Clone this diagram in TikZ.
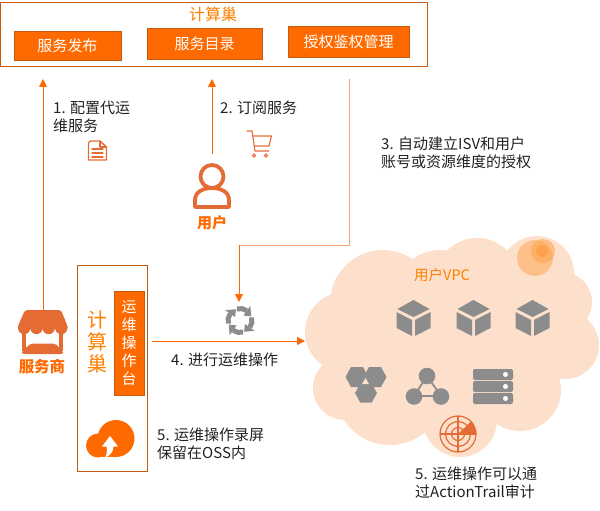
\documentclass[tikz,border=0pt]{standalone}
\usepackage{fontspec}
\setmainfont{Noto Sans CJK SC}
\usetikzlibrary{arrows.meta,calc}
\definecolor{org}{HTML}{FF6A00}
\definecolor{edge}{HTML}{C55A11}
\definecolor{icon}{HTML}{E56B35}
\definecolor{lite}{HTML}{F8A26E}
\definecolor{cloudc}{HTML}{FDE0CB}
\definecolor{gry}{HTML}{8C8C8C}
\definecolor{txt}{HTML}{222222}
\tikzset{
  btn/.style={draw=edge,fill=org,line width=0.8pt,text=white,font=\fontsize{15}{17}\selectfont,inner sep=0pt},
  frm/.style={draw=edge,line width=0.8pt,fill=none,inner sep=0pt},
  lbl/.style={anchor=west,align=left,text=txt,inner sep=0pt,font=\fontsize{15}{18}\selectfont},
  head/.style={text=org!85!yellow,inner sep=0pt},
  flow/.style={draw=org,line width=1pt,-{Triangle[length=8pt,width=8pt]}},
  ico/.style={draw=icon,line width=1.4pt,line join=round,line cap=round,fill=none},
  cube/.pic={
    \fill[gry] (0,-18) -- (16,-9) -- (0,-1) -- (-16,-9) -- cycle;
    \fill[gry] (-17,-6) -- (-1.5,2) -- (-1.5,18) -- (-17,10) -- cycle;
    \fill[gry] (17,-6) -- (1.5,2) -- (1.5,18) -- (17,10) -- cycle;
  },
  hex/.pic={\fill[gry] (-11.5,0) -- (-6,-10) -- (6,-10) -- (11.5,0) -- (6,10) -- (-6,10) -- cycle;},
  sbar/.pic={\fill[gry,rounded corners=2pt] (-20,-5.5) rectangle (20,5.5);\fill[white] (12.5,0) circle (2.5);}
}
\begin{document}
\begin{tikzpicture}[x=1pt,y=-1pt]
\useasboundingbox (0,0) rectangle (600,511);
% cloud
\foreach \cx/\cy/\cr in {345/332/40,383/303/53,440/296/46,477/280/42,537/273/37,562/302/30,565/345/34,520/390/41,460/420/37,390/390/55,345/388/32,450/340/85,500/340/62}{
  \fill[cloudc] (\cx,\cy) circle (\cr);
}
\fill[orange!60!cloudc,opacity=.55] (535,258) circle (18);
\fill[orange!60!cloudc,opacity=.6] (543,251) circle (12);
\fill[orange!75!cloudc,opacity=.55] (542,251) circle (6);
% top frame
\node[frm,minimum width=427pt,minimum height=64pt] (topframe) at (214,34.5) {};
\node[head,font=\fontsize{16}{18}\selectfont] (toptitle) at (213,14.5) {计算巢};
\node[btn,minimum width=107pt,minimum height=29.5pt] (publish) at (67.5,46) {服务发布};
\node[btn,minimum width=115pt,minimum height=30.5pt] (catalog) at (204.5,44) {服务目录};
\node[btn,minimum width=121pt,minimum height=30.5pt] (auth) at (348.5,42) {授权鉴权管理};
% side frame
\node[frm,minimum width=70pt,minimum height=206pt] (sideframe) at (112.5,368.5) {};
\node[btn,minimum width=30pt,minimum height=104.5pt,align=center,font=\fontsize{15}{17.8}\selectfont] (console) at (129,343.2) {运\\维\\操\\作\\台};
\node[head,align=center,font=\fontsize{20}{21.7}\selectfont] (sidetitle) at (97,342) {计\\算\\巢};
% coordinates for connectors
\coordinate (a1s) at (43,310); \coordinate (a1e) at (43,79);
\coordinate (a2s) at (212,154); \coordinate (a2e) at (212,79);
\coordinate (a3s) at (349,79); \coordinate (a3c) at (349,245); \coordinate (a3d) at (239,245); \coordinate (a3e) at (239,302);
\coordinate (a4s) at (152,341); \coordinate (a4e) at (305,341);
\draw[flow] (a1s) -- (a1e);
\draw[flow] (a2s) -- (a2e);
\draw[draw=lite,line width=1pt] (a3s) -- (a3c) -- (a3d);
\draw[flow] (a3d) -- (a3e);
\draw[flow] (a4s) -- (a4e);
% labels
\node[lbl] (l1) at (53,117) {1. 配置代运\\维服务};
\node[lbl] (l2) at (220,108) {2. 订阅服务};
\node[lbl] (l3) at (381,153) {3. 自动建立ISV和用户\\账号或资源维度的授权};
\node[lbl] (l4) at (171,360) {4. 进行运维操作};
\node[lbl] (l5) at (157,444) {5. 运维操作录屏\\保留在OSS内};
\node[lbl] (l6) at (415,483) {5. 运维操作可以通\\过ActionTrail审计};
\node[anchor=west,inner sep=0pt,text=org!85!yellow,font=\fontsize{14.5}{16}\selectfont] (vpc) at (414,275) {用户VPC};
% doc icon
\draw[ico] (88.5,143) -- (88.5,160) -- (106.5,160) -- (106.5,147) -- (100,141) -- (90.5,141) -- cycle;
\draw[ico,line width=1.1pt] (100,141.5) -- (100,147) -- (106,147) (92,149) -- (103,149) (92,153) -- (103,153) (92,157) -- (103,157);
% cart icon
\draw[ico,line width=1.1pt] (247,131) -- (252,131) -- (255,151) -- (269,151) (253,136) -- (271.5,136) -- (269,146) -- (254.5,146);
\draw[ico,line width=1.1pt] (254,155.5) circle (1.7) (266,155.5) circle (1.7);
% user
\draw[icon,line width=3.8pt] (212,176.5) circle (11.5);
\draw[icon,line width=3.8pt,line join=round] (195,207) -- (195,200) .. controls (195,192) and (203,188) .. (212,188) .. controls (221,188) and (229,192) .. (229,200) -- (229,207) -- cycle;
\node[inner sep=0pt,text=org,font=\fontsize{15}{17}\selectfont\bfseries] (user) at (212,223) {用户};
% store
\fill[icon,rounded corners=2pt] (25,310) -- (61,310) -- (67.5,326) -- (67.5,329) -- (18,329) -- (18,326) -- cycle;
\foreach \sx in {24.2,36.5,48.7,61.3}{\fill[icon] (\sx,328) circle (6.2);}
\fill[icon] (22,332) rectangle (26,351);
\fill[icon] (59,332) rectangle (63,351);
\fill[icon,rounded corners=2pt] (31,343.5) -- (55,343.5) -- (63,351) -- (63,354) -- (22,354) -- (22,351) -- cycle;
\node[inner sep=0pt,text=org,font=\fontsize{15.5}{17}\selectfont\bfseries] (vendor) at (42,367) {服务商};
% sync icon
\begin{scope}[shift={(240,320.5)}]
\foreach \a in {15,105,195,285}{
  \draw[gry,line width=5pt,rotate=\a] (12,0) arc (0:50:12);
  \fill[gry,rotate=\a] (50:6) -- (50:18) -- (85:12) -- cycle;
}
\end{scope}
% upload cloud
\fill[org] (116,438.5) circle (18.5);
\fill[org] (98,445.5) circle (12);
\fill[org] (98,440) rectangle (116,457);
\fill[white] (110,436) -- (118,446.5) -- (113.5,446.5) .. controls (113.5,451) and (111,455) .. (105,458) .. controls (107,454) and (107.5,450) .. (106.5,446.5) -- (102,446.5) -- cycle;
% cubes
\pic at (413.5,318) {cube};
\pic at (473.5,318) {cube};
\pic at (532.5,318) {cube};
% hexes
\pic at (357,377) {hex};
\pic at (375,377) {hex};
\pic[scale=.95] at (366,393) {hex};
\fill[cloudc] (365.5,378) -- (369,384) -- (362,384) -- cycle;
% network
\draw[gry,line width=1.8pt] (427,376) -- (414,396) -- (441,396) -- cycle;
\fill[gry] (427,376) circle (8.3);
\fill[gry] (414,396.5) circle (8.3);
\fill[gry] (441,396.5) circle (8.3);
% server
\pic at (493,374.5) {sbar};
\pic at (493,386.5) {sbar};
\pic at (493,398.5) {sbar};
% radar
\draw[icon,line width=1.2pt] (458,434) circle (18) circle (12.5) circle (6.5);
\draw[icon,line width=1.2pt] (440,434) -- (476,434) (458,416) -- (458,452);
\fill[icon] (458,434) -- (471,421.5) arc (-45:0:18.3) -- cycle;
\end{tikzpicture}
\end{document}
